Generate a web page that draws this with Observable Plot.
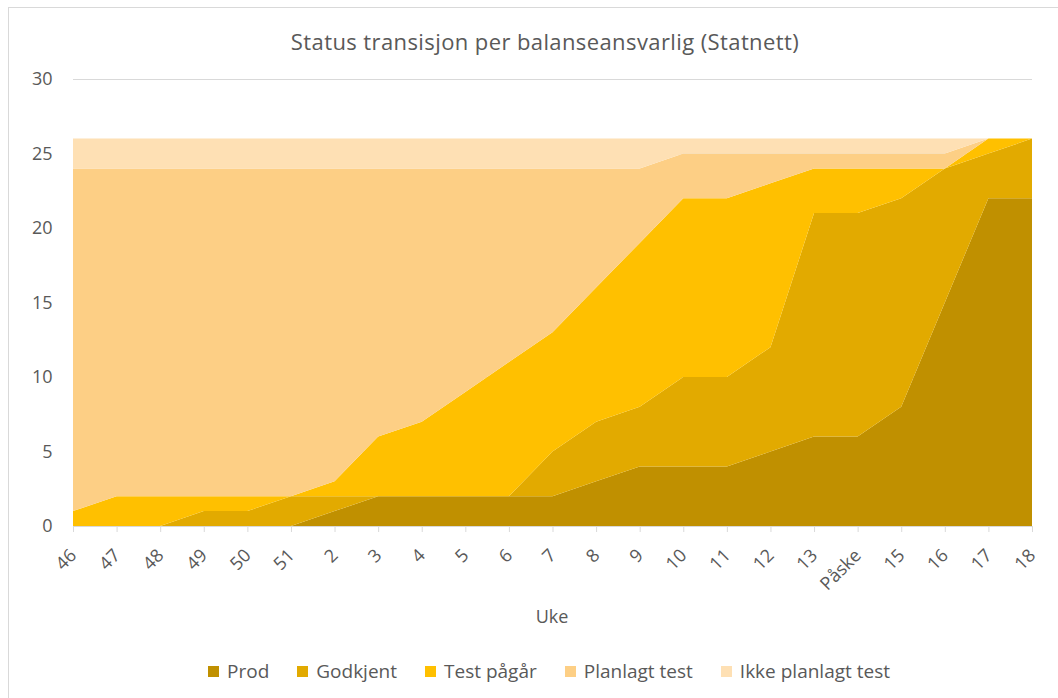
<!DOCTYPE html>
<html><head><meta charset="utf-8">
<script src="https://cdn.jsdelivr.net/npm/d3@7"></script>
<script src="https://cdn.jsdelivr.net/npm/@observablehq/plot@0.6"></script>
<style>
body{margin:0;background:#fff;font-family:"Open Sans",sans-serif;color:#595959;}
#wrap{position:relative;width:1058px;height:698px;overflow:hidden;background:#fff;}
#border{position:absolute;left:8px;top:7px;width:1100px;height:760px;border:1px solid #D9D9D9;box-sizing:border-box;}
#title{position:absolute;left:0;top:26px;width:1090px;text-align:center;font-size:22px;letter-spacing:0.4px;color:#595959;}
#chart{position:absolute;left:0;top:60px;}
#xlabel{position:absolute;left:502px;top:604px;width:100px;text-align:center;font-size:18px;color:#595959;}
#legend{position:absolute;left:0;top:658px;width:1098px;display:flex;justify-content:center;gap:28px;font-size:19px;color:#595959;}
#legend .item{display:flex;align-items:center;gap:8px;}
#legend .sw{width:11px;height:11px;display:inline-block;}
</style></head><body>
<div id="wrap">
 <div id="border"></div>
 <div id="title">Status transisjon per balanseansvarlig (Statnett)</div>
 <div id="chart"></div>
 <div id="xlabel">Uke</div>
 <div id="legend"></div>
</div>
<script>
const weeks = ["46","47","48","49","50","51","2","3","4","5","6","7","8","9","10","11","12","13","Påske","15","16","17","18"];
const seriesNames = ["Prod","Godkjent","Test pågår","Planlagt test","Ikke planlagt test"];
const prod         = [0,0,0,0,0,0,1,2,2,2,2,2,3,4,4,4,5,6,6,8,15,22,22];
const godkjent     = [0,0,0,1,1,2,1,0,0,0,0,3,4,4,6,6,7,15,15,14,9,3,4];
const testPagar    = [1,2,2,1,1,0,1,4,5,7,9,8,9,11,12,12,11,3,3,2,0,1,0];
const planlagt     = [23,22,22,22,22,22,21,18,17,15,13,11,8,5,3,3,2,1,1,1,1,0,0];
const ikkePlanlagt = [2,2,2,2,2,2,2,2,2,2,2,2,2,2,1,1,1,1,1,1,1,0,0];
const yTicks = [0,5,10,15,20,25,30];
const colors = ["#C09000","#E2AA00","#FFC000","#FDCF85","#FEE0B4"];

const seriesValues = [prod, godkjent, testPagar, planlagt, ikkePlanlagt];
const data = [];
seriesNames.forEach((s, k) => {
  weeks.forEach((w, i) => data.push({i, week: w, series: s, value: seriesValues[k][i]}));
});

const chart = Plot.plot({
  width: 1058,
  height: 580,
  marginTop: 19,
  marginBottom: 114,
  marginLeft: 73,
  marginRight: 26,
  style: {fontFamily: "'Open Sans', sans-serif", fontSize: "18px", color: "#595959", background: "transparent"},
  x: {domain: [0, weeks.length - 1]},
  y: {domain: [0, 30]},
  color: {domain: seriesNames, range: colors},
  marks: [
    Plot.gridY(yTicks, {stroke: "#D9D9D9", strokeOpacity: 1, strokeWidth: 1}),
    Plot.areaY(data, {x: "i", y: "value", fill: "series", order: null}),
    Plot.ruleY([0], {stroke: "#D9D9D9", strokeWidth: 1}),
    Plot.axisY({ticks: yTicks, tickSize: 0, tickPadding: 21, label: null, fill: "#595959", fontSize: 18}),
    Plot.axisX({ticks: d3.range(weeks.length), tickFormat: i => weeks[i], tickSize: 6, tickPadding: 20, tickRotate: -45, stroke: "#D9D9D9", label: null, fill: "#595959", fontSize: 18})
  ]
});
document.getElementById("chart").appendChild(chart);

const legend = document.getElementById("legend");
seriesNames.forEach((s, k) => {
  const it = document.createElement("div");
  it.className = "item";
  it.innerHTML = `<span class="sw" style="background:${colors[k]}"></span><span>${s}</span>`;
  legend.appendChild(it);
});
</script>
</body></html>
